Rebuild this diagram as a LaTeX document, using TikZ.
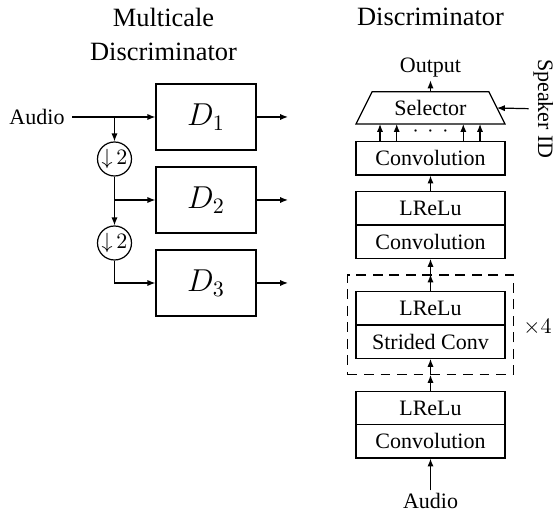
\documentclass[tikz,border=0pt]{standalone}
\usepackage{fontspec}
\setmainfont{Liberation Serif}
\usetikzlibrary{arrows.meta}
\begin{document}
\begin{tikzpicture}[x=0.4545pt,y=-0.4545pt,line width=0.55pt,
  lbl/.style={inner sep=1pt},
  ttl/.style={font=\large,inner sep=0pt},
  dbox/.style={draw,minimum width=45.45pt,minimum height=30pt,inner sep=0pt,font=\Large},
  layer/.style={draw,minimum width=67.7pt,minimum height=15.15pt,inner sep=0pt},
  down/.style={draw,circle,minimum size=15.45pt,inner sep=0pt},
  arr/.style={-{Latex[length=3.6pt,width=2.8pt]}},
  repeatbox/.style={draw,dash pattern=on 4.5pt off 3pt,minimum width=75.45pt,minimum height=45.1pt,inner sep=0pt}]
\useasboundingbox (0,0) rectangle (553,512);

% ---------- multiscale discriminator ----------
\node[ttl] (tl1) at (163.5,17) {Multicale};
\node[ttl] (tl2) at (163.5,52) {Discriminator};

\node[dbox] (d1) at (206,117) {$D_1$};
\node[dbox] (d2) at (206,200) {$D_2$};
\node[dbox] (d3) at (206,283) {$D_3$};
\node (ain) at (37,117) {Audio};
\node[down] (c1) at (114.5,159) {${\downarrow}\,2$};
\node[down] (c2) at (114.5,243) {${\downarrow}\,2$};
\coordinate (s1) at (c1 |- d1);
\coordinate (s2) at (c1 |- d2);
\coordinate (o1) at (288,117);
\coordinate (o2) at (288,200);
\coordinate (o3) at (288,283);

\draw[arr] (ain) -- (d1);
\draw[arr] (s1) -- (c1);
\draw[arr] (c1) -- (c2);
\draw[arr] (s2) -- (d2);
\draw[arr] (c2) |- (d3);
\draw[arr] (d1) -- (o1);
\draw[arr] (d2) -- (o2);
\draw[arr] (d3) -- (o3);

% ---------- single discriminator ----------
\node[ttl] (tr) at (430.5,17) {Discriminator};

\node[layer] (cv3) at (430.5,158.3) {Convolution};
\node[layer] (lr2) at (430.5,208.3) {LReLu};
\node[layer] (cv2) at (430.5,241.6) {Convolution};
\node[repeatbox] (rep) at (430.5,324.7) {};
\node[layer] (lr1) at (430.5,308.3) {LReLu};
\node[layer] (sc) at (430.5,341.6) {Strided Conv};
\node[layer] (lr0) at (430.5,408) {LReLu};
\node[layer] (cv0) at (430.5,441.3) {Convolution};
\node (times) at (537.5,327) {$\times 4$};
\node[lbl] (ain2) at (430.5,501) {Audio};

% selector
\coordinate (selTL) at (372.2,91.7);
\coordinate (selTR) at (488.8,91.7);
\coordinate (selBR) at (505,124);
\coordinate (selBL) at (356,124);
\draw (selTL) -- (selTR) -- (selBR) -- (selBL) -- cycle;
\node[inner sep=0pt] (sel) at (430.5,108) {Selector};
\coordinate (selT) at (430.5,91.7);
\coordinate (selR) at (496.9,108);
\node[lbl] (out) at (430.5,68) {Output};
\node[rotate=-90,inner sep=2pt] (spk) at (543.5,109) {Speaker ID};
\draw[arr] (selT) -- (out);
\draw[arr] (spk) -- (selR);

% parallel outputs into the selector
\foreach \i/\x in {a/380,b/396.7,c/463.3,d/480}{
  \coordinate (p\i) at (\x,124);
  \draw[arr] (cv3.north -| p\i) -- (p\i);
}
\node[inner sep=0pt,anchor=base] (dots) at (430.5,137) {${\cdot}\kern4pt{\cdot}\kern4pt{\cdot}$};

% connections through the stack
\draw[arr] (lr2) -- (cv3);
\draw[arr] (lr1) -- (rep.north);
\draw[arr] (rep.north) -- (cv2);
\draw[arr] (lr0) -- (rep.south);
\draw[arr] (rep.south) -- (sc);
\draw[arr] (ain2) -- (cv0);
\end{tikzpicture}
\end{document}
